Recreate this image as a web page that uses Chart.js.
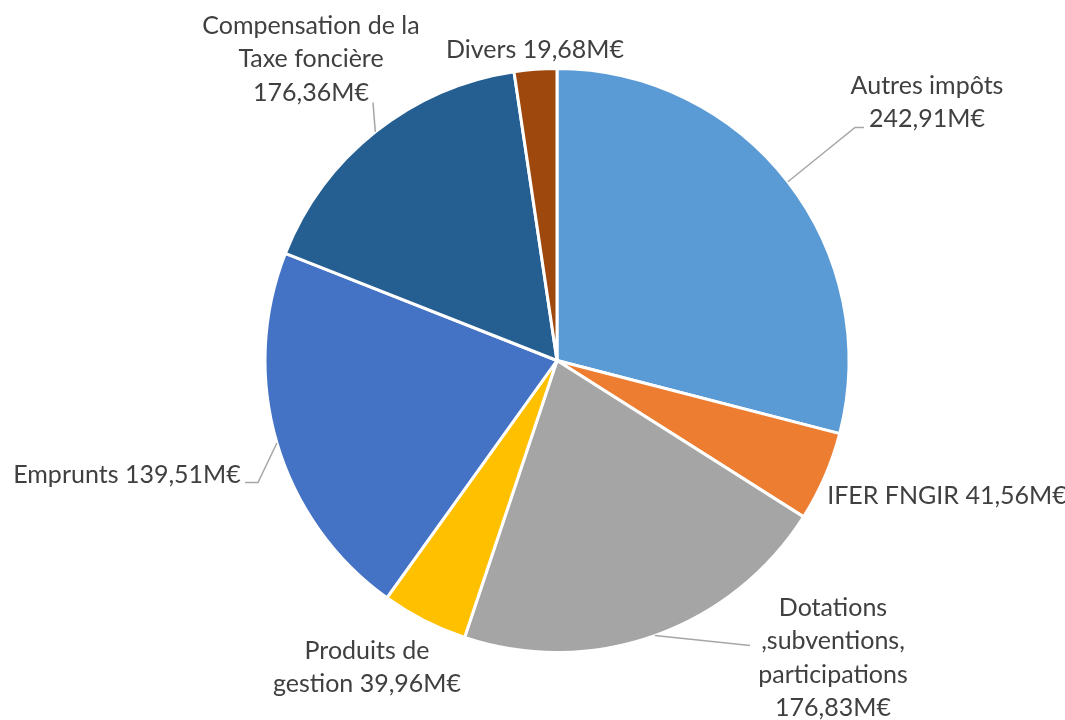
<!DOCTYPE html>
<html>
<head>
<meta charset="utf-8">
<script src="https://cdn.jsdelivr.net/npm/chart.js@4/dist/chart.umd.min.js"></script>
<style>
  html, body { margin: 0; padding: 0; background: #ffffff; }
  #wrap { width: 1065px; height: 720px; position: relative; }
</style>
</head>
<body>
<div id="wrap"><canvas id="c" width="1065" height="720"></canvas></div>
<script>
// ---- data ----
const categories = [
  'Autres impôts',
  'IFER FNGIR',
  'Dotations ,subventions, participations',
  'Produits de gestion',
  'Emprunts',
  'Compensation de la Taxe foncière',
  'Divers'
];
// slice sizes as drawn in the picture (the Emprunts / Compensation slices
// are drawn with each other's amounts in the source chart)
const sliceValues = [242.91, 41.56, 176.83, 39.96, 176.36, 139.51, 19.68];
// amounts printed in the data labels
const labelValues = [242.91, 41.56, 176.83, 39.96, 139.51, 176.36, 19.68];
const unit = 'M€';

// ---- styles ----
const colors = ['#5B9BD5', '#ED7D31', '#A5A5A5', '#FFC000', '#4472C4', '#255E91', '#9E480E'];
const FONT = '25px Lato, "Noto Sans", sans-serif';
const TEXT_COLOR = '#404040';
const LEADER_COLOR = '#A6A6A6';
const LINE_H = 33.5;

// label layout: offsets (px at reference radius 292) from pie centre
// breaks = word indices after which the label wraps; t = position along arc for leader start
const labelLayout = [
  { x: 370,  y: -267, breaks: [2],       leader: { t: 0.5, pts: [[298, -233], [307, -233]] } },
  { x: 390,  y: 143,  breaks: [] },
  { x: 276,  y: 255,  breaks: [1, 2, 3], leader: { t: 0.5, pts: [[193, 285]] } },
  { x: -190, y: 298,  breaks: [2] },
  { x: -430, y: 122,  breaks: [],        leader: { t: 0.5, pts: [[-299, 122], [-312, 122]] } },
  { x: -246, y: -327, breaks: [3, 5],    leader: { t: 0.5, pts: [[-184, -258]] } },
  { x: -22,  y: -303, breaks: [] }
];
const REF_R = 292;

function fmt(v) { return v.toFixed(2).replace('.', ',') + unit; }

function labelLines(i) {
  const words = (categories[i] + ' ' + fmt(labelValues[i])).split(' ');
  const br = labelLayout[i].breaks;
  const lines = [];
  let cur = [];
  words.forEach((w, k) => {
    cur.push(w);
    if (br.includes(k + 1)) { lines.push(cur.join(' ')); cur = []; }
  });
  if (cur.length) lines.push(cur.join(' '));
  return lines;
}

const labelPlugin = {
  id: 'excelLabels',
  afterDatasetsDraw(chart) {
    const ctx = chart.ctx;
    const meta = chart.getDatasetMeta(0);
    ctx.save();
    meta.data.forEach((arc, i) => {
      const p = arc.getProps(['x', 'y', 'startAngle', 'endAngle', 'outerRadius'], true);
      const s = p.outerRadius / REF_R;
      const L = labelLayout[i];
      if (L.leader) {
        const a = p.startAngle + L.leader.t * (p.endAngle - p.startAngle);
        ctx.beginPath();
        ctx.moveTo(p.x + p.outerRadius * Math.cos(a), p.y + p.outerRadius * Math.sin(a));
        L.leader.pts.forEach(pt => ctx.lineTo(p.x + pt[0] * s, p.y + pt[1] * s));
        ctx.strokeStyle = LEADER_COLOR;
        ctx.lineWidth = 1.5;
        ctx.stroke();
      }
      ctx.font = FONT;
      ctx.fillStyle = TEXT_COLOR;
      ctx.textAlign = 'center';
      ctx.textBaseline = 'alphabetic';
      const lines = labelLines(i);
      lines.forEach((ln, k) => {
        ctx.fillText(ln, p.x + L.x * s, p.y + L.y * s + k * LINE_H);
      });
    });
    ctx.restore();
  }
};

new Chart(document.getElementById('c'), {
  type: 'pie',
  data: {
    labels: categories,
    datasets: [{
      data: sliceValues,
      backgroundColor: colors,
      borderColor: '#ffffff',
      borderWidth: 3
    }]
  },
  options: {
    responsive: false,
    animation: false,
    layout: { padding: { left: 240, right: 191, top: 67, bottom: 66 } },
    plugins: { legend: { display: false }, tooltip: { enabled: false } }
  },
  plugins: [labelPlugin]
});
</script>
</body>
</html>
